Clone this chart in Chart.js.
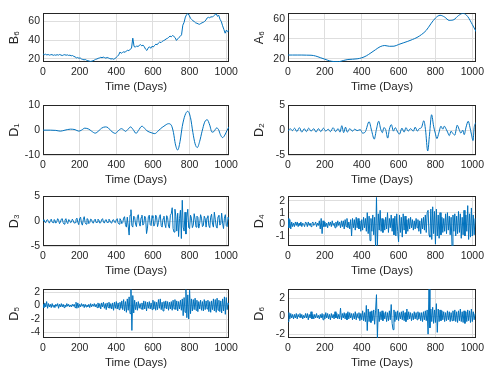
<!DOCTYPE html>
<html><head><meta charset="utf-8">
<script src="https://cdn.jsdelivr.net/npm/chart.js@4"></script>
<style>
html,body{margin:0;padding:0;background:#fff;width:493px;height:379px;overflow:hidden}
canvas{position:absolute}
</style></head><body>
<script>
const xTicks=[0,200,400,600,800,1000];
const xTitle='Time (Days)';
const yLabels=['B₆','A₆','D₁','D₂','D₃','D₄','D₅','D₆'];

// B6: sampled every 7 days
const B6_STEP=7;
const B6=[
25.2,24.4,24.9,24.1,24.6,23.9,24.3,24.5,23.7,24.2,
23.8,24.4,23.9,24.6,24.0,23.5,24.1,24.4,23.8,24.2,
23.6,23.9,23.2,23.5,22.6,22.1,21.0,21.4,20.6,20.9,
19.8,19.3,18.9,19.2,18.4,18.0,17.6,17.2,17.5,17.9,
18.6,19.4,19.8,20.5,20.9,21.6,21.2,21.8,21.3,20.7,
21.4,20.9,20.3,19.8,20.1,19.5,20.2,21.3,22.6,24.1,
27.2,25.9,26.8,27.5,26.9,28.4,29.1,28.6,30.3,31.2,
42.0,33.2,32.4,33.8,33.0,34.2,35.1,33.9,34.6,32.8,
30.2,28.9,31.5,32.9,31.2,33.4,32.6,34.3,35.6,35.0,
36.8,37.9,37.2,38.6,39.4,40.1,41.2,41.8,42.9,44.2,
43.5,44.8,43.9,42.6,39.6,41.2,42.8,43.9,45.6,55.8,
58.9,64.5,67.2,68.3,66.1,63.2,61.8,60.4,59.6,58.3,
57.9,57.2,56.8,57.6,58.4,58.9,59.8,61.4,63.6,64.2,
63.7,64.9,64.4,65.8,66.9,68.2,65.3,66.4,62.1,59.8,
55.2,51.4,47.3,50.6,48.9,50.2];

// A6: sampled every 25 days
const A6_STEP=25;
const A6=[23.8,23.8,23.8,23.8,23.7,23.6,22.8,21.2,19.6,18.0,
17.2,17.1,18.3,19.3,19.6,20.0,21.0,23.0,26.0,29.2,
32.2,33.4,32.6,32.7,34.4,36.0,37.6,39.4,41.5,44.5,
48.6,55.2,61.0,63.8,62.0,58.6,59.4,63.5,65.8,62.5,
54.5,45.8];

// D1: turning points (day, value)
const D1_days=[0,40,70,95,120,150,175,195,210,228,250,265,285,305,320,340,355,370,395,410,428,440,450,462,478,492,508,520,540,555,568,590,610,625,640,660,685,700,712,722,735,748,760,775,790,805,818,830,842,855,868,882,896,910,922,932,948,958,968,980,992,1005,1015];
const D1_vals=[0,0,-0.1,-0.4,0,0.4,0.2,-0.4,0,0.8,0.4,-0.4,-1.2,-0.2,0.8,1.3,1.0,-0.2,-1.3,-0.3,0.6,0.1,-0.5,0.2,1.3,0.2,-1.3,-0.2,1.6,0.7,-0.3,-1.0,-1.4,-0.6,0.5,1.6,2.6,2.0,-1.0,-5.5,-8.0,-4.5,1.5,6.0,7.6,5.0,-1.0,-5.5,-7.0,-4.5,-0.5,3.2,4.2,2.0,-0.8,-0.6,0.9,0.2,-1.8,-3.0,-2.0,0,1.3];

// D2: turning points (day, value)
const D2_days=[0,12,24,36,48,62,75,88,100,112,125,140,152,165,178,192,205,218,230,245,258,272,282,292,302,312,322,335,350,362,375,392,405,420,440,453,468,480,492,503,512,520,530,541,550,561,572,582,595,605,618,630,640,652,665,680,690,702,712,724,737,746,758,768,779,790,799,808,818,830,840,848,858,866,875,885,893,905,918,928,938,948,956,966,978,987,995,1004,1010,1018];
const D2_vals=[-0.2,0.3,-0.1,0.4,-0.3,0.5,-0.4,0.3,-0.3,0.4,-0.2,0.3,-0.4,0.3,-0.3,0.4,-0.2,0.2,-0.3,0.5,-0.3,0.3,-0.4,0.9,-0.5,0.6,-0.4,0.3,-0.2,0.2,-0.1,0.1,-0.6,-0.3,1.7,0.0,-1.8,0.2,1.8,0.2,-0.5,0.5,0.1,-1.6,0.2,1.1,-0.2,0.5,-0.4,-0.8,0.4,-0.4,0.5,-0.2,0.3,-0.2,0.6,-0.2,0.3,0.5,1.9,0.1,-4.2,-0.8,3.1,0.8,-0.6,-1.7,-0.6,0.8,0.2,0.8,0.2,-0.4,-1.1,-0.2,-0.6,-1.0,1.0,0.2,-0.6,0.0,-0.9,0.6,1.8,0.6,-0.8,-2.1,0.5,1.5];

// D3..D6: sampled every 5 days
const D_STEP=5;
const D3=[
0.1,0.3,-0.2,-0.3,0.2,0.3,-0.1,-0.4,0.1,0.4,-0.2,-0.3,0.3,0.2,-0.4,-0.1,0.5,0.2,-0.5,-0.2,
0.4,0.5,-0.3,-0.6,0.2,0.5,-0.2,-0.5,0.3,0.2,-0.3,-0.2,0.4,0.1,-0.4,-0.3,0.3,0.6,-0.2,-0.7,
0.5,0.8,-0.4,-0.8,0.3,0.9,-0.3,-0.6,0.5,0.4,-0.5,-0.3,0.4,0.3,-0.3,-0.4,0.2,0.4,-0.3,-0.2,
0.4,0.2,-0.4,-0.3,0.3,0.5,-0.2,-0.4,0.2,0.3,-0.3,-0.2,0.4,0.1,-0.3,-0.4,0.2,0.3,-0.2,-0.3,
0.3,0.5,-0.4,-0.6,0.5,0.2,-0.5,-0.3,0.6,0.9,-0.7,-1.2,0.8,-1.0,-2.8,1.2,2.3,-0.9,-1.2,1.0,
0.8,-0.6,-1.1,0.9,1.3,-0.4,-1.0,0.7,1.2,-0.8,-0.5,1.0,0.6,-2.5,-1.4,0.9,1.2,-0.7,-0.9,1.1,
0.6,-1.0,-0.6,1.2,0.8,-1.1,-0.3,0.9,1.3,-0.9,-1.2,0.5,1.0,-0.6,-1.3,1.1,0.7,-1.0,-1.4,1.2,
1.5,2.7,-1.5,-2.2,2.4,1.0,-2.0,1.6,-3.1,0.5,2.2,-3.5,4.2,-1.2,-2.0,1.8,-2.6,0.8,2.4,-1.3,
-1.5,1.2,0.6,-1.3,-0.8,1.5,0.4,-1.2,1.0,0.8,-1.4,-0.5,1.3,0.6,-1.1,-0.9,1.0,0.5,-1.2,0.7,
1.1,-0.9,-1.3,0.8,1.4,-0.6,-1.2,1.8,0.4,-1.0,-1.4,0.9,1.2,-0.8,-0.5,1.6,-0.4,-1.5,0.6,1.3,
-0.9,-1.1,0.8,0.3];
const D4=[
0.5,-0.3,0.4,-0.4,0.2,-0.2,0.1,-0.2,0.2,-0.1,0.2,-0.2,0.1,-0.1,0.2,-0.2,0.1,0.0,-0.2,0.2,
0.1,-0.2,0.2,-0.1,0.1,-0.2,0.1,0.2,-0.1,0.0,0.2,-0.2,0.1,-0.1,0.3,-0.4,0.5,-0.8,0.3,-0.2,
0.2,-0.2,0.1,-0.3,0.2,-0.1,0.2,-0.2,0.3,-0.1,0.1,-0.3,0.2,-0.2,0.3,-0.1,0.2,-0.3,0.3,-0.2,
0.3,-0.4,0.4,-0.2,0.5,-0.3,0.2,-0.4,0.4,-1.0,0.5,-0.3,0.4,-0.5,0.6,-0.3,0.5,-0.4,0.3,-0.6,
0.4,-0.5,0.6,-0.3,0.5,-0.6,1.0,-0.8,0.7,-1.4,0.5,-0.6,0.8,-0.9,0.6,-1.9,2.3,-1.8,0.9,-0.5,
1.2,-0.6,0.5,-0.7,0.4,-0.5,0.6,-0.4,1.0,-0.7,0.5,-0.3,0.8,-0.6,0.5,-0.9,0.7,-1.0,0.9,-0.6,
-1.5,0.8,-0.7,0.6,-1.1,0.9,-0.5,0.7,-0.8,0.4,-0.6,0.5,-0.4,0.6,-0.3,0.4,-0.5,0.3,-0.4,0.5,
-0.3,0.4,-0.6,0.3,-0.8,0.5,-0.4,0.6,-0.5,0.8,-0.7,1.0,1.2,-0.9,-1.1,1.3,-1.3,1.5,-0.8,1.1,
-1.7,1.3,-1.0,0.8,-1.2,1.0,-0.9,0.6,-0.7,0.5,-0.6,0.9,-0.8,1.0,-0.5,0.7,-0.9,0.6,-1.9,0.8,
-0.6,0.9,-1.0,0.7,-0.8,1.1,-0.7,0.9,-1.2,0.6,-0.9,1.2,-1.0,0.8,-0.6,1.6,-1.3,0.9,-1.1,1.4,
-1.0,0.8,-0.9,0.5];
const D5=[
0.2,-0.3,0.4,-0.2,0.6,-0.4,0.3,-0.2,0.2,-0.3,0.3,-0.2,0.1,-0.3,0.2,-0.1,0.3,-0.4,0.2,-0.2,
0.3,-0.2,0.2,-0.3,0.1,-0.2,0.3,-0.1,0.2,-0.2,0.1,-0.2,0.2,-0.1,0.2,-0.3,0.5,-0.4,0.4,-0.3,
0.2,-0.2,0.3,-0.1,0.2,-0.3,0.2,-0.2,0.1,-0.2,0.2,-0.3,0.3,-0.2,0.2,-0.1,0.3,-0.2,0.2,-0.3,
0.4,-0.3,0.3,-0.5,0.4,-0.2,0.5,-0.4,0.3,-0.6,0.4,-0.3,0.5,-0.4,0.3,-0.5,0.4,-0.7,0.5,-0.4,
0.6,-0.5,0.4,-0.6,0.5,-0.4,0.7,-0.6,0.9,-0.8,0.6,-1.0,1.0,-0.7,1.3,-1.2,2.4,-3.7,1.5,-1.1,
0.8,-0.6,0.5,-0.7,0.6,-0.4,0.3,-0.5,0.4,-0.6,0.7,-0.5,0.6,-0.8,0.5,-0.4,0.6,-0.5,0.4,-0.6,
0.8,-0.5,0.6,-0.7,0.5,-0.6,0.9,-0.4,1.0,-0.6,0.5,-0.8,0.6,-0.4,0.7,-0.5,0.6,-0.7,0.5,-0.5,
0.6,-0.7,0.8,-0.5,0.9,-0.6,0.7,-0.8,0.6,-0.5,0.8,-0.7,1.0,-1.5,1.2,-1.0,2.4,-1.8,1.6,-2.0,
2.3,-1.2,1.0,-0.8,0.9,-0.6,1.1,-0.7,0.8,-0.9,0.6,-0.5,0.8,-0.7,0.6,-0.8,0.9,-0.6,0.7,-0.5,
0.8,-0.9,0.6,-1.0,0.7,-0.6,1.0,-0.8,0.9,-1.0,1.1,-0.7,0.8,-0.9,0.7,-1.1,1.0,-0.8,1.3,-1.3,
1.2,-0.6,0.4,0.1];
const D6=[
-0.6,0.4,-0.3,0.3,-0.2,0.2,-0.3,0.2,-0.2,0.3,-0.3,0.2,-0.1,0.3,-0.2,0.2,-0.3,0.1,-0.2,0.3,
-0.2,0.3,-0.4,0.2,-0.2,0.5,-0.3,0.2,-0.3,0.2,-0.2,0.3,-0.2,0.1,-0.3,0.2,-0.2,0.3,-0.4,0.2,
-0.3,0.4,-0.2,0.3,-0.3,0.2,-0.4,0.3,-0.2,0.2,-0.3,0.5,-0.2,0.3,-0.3,0.2,-0.3,0.9,-0.4,0.3,
-0.2,0.4,-0.3,0.3,-0.4,0.5,-0.3,0.4,-0.2,0.3,-0.4,0.3,-0.3,0.5,-0.4,0.3,-0.2,0.4,-0.5,0.3,
-0.4,0.6,-0.5,0.4,-0.6,1.2,-1.6,0.8,-0.6,0.5,-0.7,0.6,-0.5,0.7,-0.9,0.6,2.4,-2.4,0.8,-0.6,
0.5,-0.4,0.6,-0.5,0.4,-0.3,0.5,-0.6,0.4,-0.5,0.6,-0.4,1.3,-0.8,-1.5,0.7,-0.6,0.5,-0.4,0.6,
-0.5,0.4,-0.3,0.5,-0.4,0.6,-0.5,0.4,-0.6,0.8,-0.4,0.5,-0.3,0.4,-0.5,0.3,-0.4,0.5,-0.3,0.4,
-0.4,0.5,-0.3,0.4,-0.5,0.4,-0.6,0.5,-0.4,0.6,-0.5,0.7,-2.0,3.0,-1.3,0.8,-0.6,1.0,-0.8,0.7,
-0.7,1.4,-1.8,0.8,-0.6,0.7,-0.5,0.6,-0.4,0.5,-0.6,0.4,-0.5,0.6,-0.4,0.5,-0.6,0.4,-0.5,0.6,
-0.5,0.7,-0.6,0.5,-0.7,0.6,-0.5,0.8,-0.6,0.5,-0.7,0.6,-0.8,0.5,-0.6,0.7,-0.5,0.6,-0.7,0.8,
-0.6,0.5,-0.4,0.3];

// axis ranges and tick values
const yRanges=[[16.6,68.5],[16.8,65.8],[-10,10],[-5,5],[-5,5],[-1.86,2.4],[-4.83,2.43],[-2.43,3.0]];
const yTickVals=[[20,40,60],[20,40,60],[-10,0,10],[-5,0,5],[-5,0,5],[-1,0,1,2],[-4,-2,0,2],[-2,0,2]];
const xMaxByCol=[1015,1020];

const uniform=(vals,step)=>vals.map((v,i)=>({x:i*step,y:v}));
const paired=(days,vals)=>days.map((d,i)=>({x:d,y:vals[i]}));
const seriesPts=[
  uniform(B6,B6_STEP), uniform(A6,A6_STEP),
  paired(D1_days,D1_vals), paired(D2_days,D2_vals),
  uniform(D3,D_STEP), uniform(D4,D_STEP), uniform(D5,D_STEP), uniform(D6,D_STEP)
];
const smooth=[false,true,true,true,false,false,false,false];

const FONT='"Liberation Sans", Arial, "DejaVu Sans", sans-serif';
const TXT='#262626', GRID='#dedede', LINE='#0072BD';
const colL=[43,288], colW=[186,188];
const rowT=[12,104,195,288], rowB=[62,155,246,338];
const YW=43, PT=8, PR=14, XH=36;

const frame={id:'frame',beforeDatasetsDraw(c){
  const a=c.chartArea,ctx=c.ctx;ctx.save();
  ctx.strokeStyle=TXT;ctx.lineWidth=1;
  const l=Math.round(a.left)+0.5,t=Math.round(a.top)+0.5,r=Math.round(a.right)-0.5,b=Math.round(a.bottom)-0.5;
  ctx.strokeRect(l,t,r-l,b-t);ctx.restore();}};

const plain=v=>String(v);

for(let k=0;k<8;k++){
  const col=k%2,row=Math.floor(k/2);
  const pl=colL[col],pw=colW[col],pt=rowT[row],ph=rowB[row]-rowT[row];
  const cv=document.createElement('canvas');
  const W=YW+pw+PR,H=PT+ph+XH;
  cv.width=W;cv.height=H;
  cv.style.left=(pl-YW)+'px';cv.style.top=(pt-PT)+'px';
  cv.style.width=W+'px';cv.style.height=H+'px';
  document.body.appendChild(cv);
  const yt=yTickVals[k];
  new Chart(cv,{
    type:'line',
    data:{datasets:[{data:seriesPts[k],borderColor:LINE,borderWidth:1,pointRadius:0,fill:false,
      tension:smooth[k]?0.4:0,cubicInterpolationMode:smooth[k]?'monotone':'default'}]},
    options:{
      responsive:false,animation:false,devicePixelRatio:1,parsing:false,
      layout:{padding:{top:PT,right:PR,left:0,bottom:0},autoPadding:false},
      plugins:{legend:{display:false},tooltip:{enabled:false}},
      scales:{
        x:{type:'linear',min:0,max:xMaxByCol[col],
          afterBuildTicks:s=>{s.ticks=xTicks.map(v=>({value:v}));},
          afterFit:s=>{s.height=XH;},
          grid:{color:GRID,drawTicks:false,lineWidth:1},border:{display:false},
          ticks:{padding:4,color:TXT,font:{size:10.5,family:FONT},maxRotation:0,autoSkip:false,callback:plain},
          title:{display:true,text:xTitle,color:TXT,font:{size:11.5,family:FONT},padding:{top:0,bottom:4}}},
        y:{type:'linear',min:yRanges[k][0],max:yRanges[k][1],
          afterBuildTicks:s=>{s.ticks=yt.map(v=>({value:v}));},
          afterFit:s=>{s.width=YW;},
          grid:{color:GRID,drawTicks:false,lineWidth:1},border:{display:false},
          ticks:{padding:3,color:TXT,font:{size:10.5,family:FONT},autoSkip:false,callback:plain},
          title:{display:true,text:yLabels[k],color:TXT,font:{size:12.5,family:FONT},padding:{top:7,bottom:0}}}
      }
    },
    plugins:[frame]
  });
}
</script>
</body></html>
